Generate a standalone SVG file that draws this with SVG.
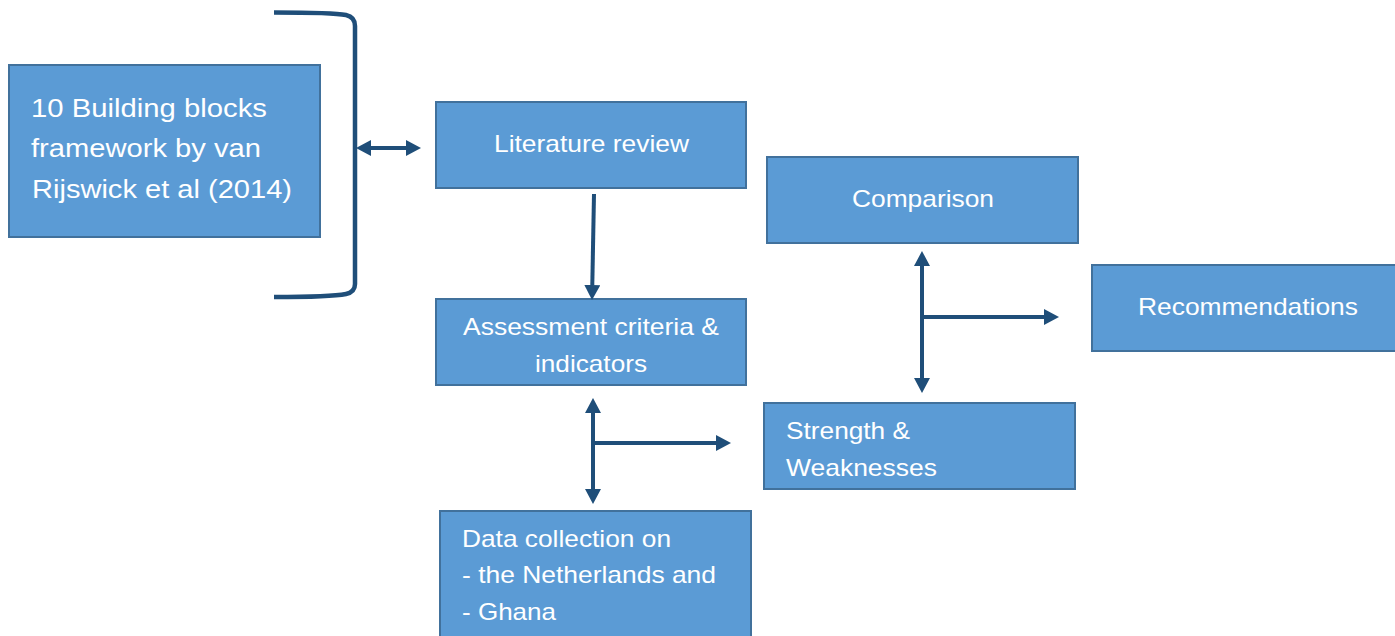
<svg xmlns="http://www.w3.org/2000/svg" width="1395" height="636" viewBox="0 0 1395 636">
  <style>
    .box { fill: #5B9BD5; stroke: #41719C; stroke-width: 2; }
    .lbl { fill: #FFFFFF; font-family: "Liberation Sans", Arial, sans-serif; font-size: 24px; }
    .big { font-size: 26.5px; }
    .conn { fill: none; stroke: #1F4E79; stroke-width: 4; }
    .brace { fill: none; stroke: #1F4E79; stroke-width: 4.5; }
  </style>
  <defs>
    <marker id="head" viewBox="0 0 15 16" refX="0" refY="8" markerWidth="15" markerHeight="16" markerUnits="userSpaceOnUse" orient="auto-start-reverse">
      <path d="M0,0 L15,8 L0,16 z" fill="#1F4E79"/>
    </marker>
  </defs>
  <rect width="1395" height="636" fill="#FFFFFF"/>

  <g id="building-blocks">
    <rect class="box" x="9" y="65" width="311" height="172"/>
    <text class="lbl big" x="31" y="117" textLength="236" lengthAdjust="spacingAndGlyphs">10 Building blocks</text>
    <text class="lbl big" x="31" y="157" textLength="230" lengthAdjust="spacingAndGlyphs">framework by van</text>
    <text class="lbl big" x="32" y="198" textLength="260" lengthAdjust="spacingAndGlyphs">Rijswick et al (2014)</text>
  </g>

  <g id="bracket">
    <path class="brace" d="M274,12.5 C310,12.5 336,13 346,15 Q355,17 355,26 L355,284 Q355,292 346,294 C336,296 310,297 274,297"/>
  </g>

  <g id="literature-review">
    <rect class="box" x="436" y="102" width="310" height="86"/>
    <text class="lbl" x="494" y="152" textLength="195" lengthAdjust="spacingAndGlyphs">Literature review</text>
  </g>

  <g id="assessment-criteria">
    <rect class="box" x="436" y="299" width="310" height="86"/>
    <text class="lbl" x="463" y="335" textLength="256" lengthAdjust="spacingAndGlyphs">Assessment criteria &amp;</text>
    <text class="lbl" x="535" y="372" textLength="112" lengthAdjust="spacingAndGlyphs">indicators</text>
  </g>

  <g id="data-collection">
    <rect class="box" x="440" y="511" width="311" height="140"/>
    <text class="lbl" x="462" y="547" textLength="209" lengthAdjust="spacingAndGlyphs">Data collection on</text>
    <text class="lbl" x="462" y="583" textLength="254" lengthAdjust="spacingAndGlyphs">- the Netherlands and</text>
    <text class="lbl" x="462" y="620" textLength="94" lengthAdjust="spacingAndGlyphs">- Ghana</text>
  </g>

  <g id="comparison">
    <rect class="box" x="767" y="157" width="311" height="86"/>
    <text class="lbl" x="852" y="207" textLength="142" lengthAdjust="spacingAndGlyphs">Comparison</text>
  </g>

  <g id="recommendations">
    <rect class="box" x="1092" y="265" width="310" height="86"/>
    <text class="lbl" x="1138" y="315" textLength="220" lengthAdjust="spacingAndGlyphs">Recommendations</text>
  </g>

  <g id="strength-weaknesses">
    <rect class="box" x="764" y="403" width="311" height="86"/>
    <text class="lbl" x="786" y="439" textLength="124" lengthAdjust="spacingAndGlyphs">Strength &amp;</text>
    <text class="lbl" x="786" y="476" textLength="151" lengthAdjust="spacingAndGlyphs">Weaknesses</text>
  </g>

  <g id="connectors">
    <!-- framework bracket <-> literature review -->
    <line class="conn" x1="371" y1="148" x2="406" y2="148" marker-start="url(#head)" marker-end="url(#head)"/>
    <!-- literature review -> assessment criteria -->
    <line class="conn" x1="594" y1="194" x2="592.3" y2="285" marker-end="url(#head)"/>
    <!-- assessment criteria <-> data collection, branch to strengths -->
    <line class="conn" x1="593" y1="413" x2="593" y2="489" marker-start="url(#head)" marker-end="url(#head)"/>
    <line class="conn" x1="593" y1="443" x2="716" y2="443" marker-end="url(#head)"/>
    <!-- comparison <-> strengths, branch to recommendations -->
    <line class="conn" x1="922" y1="266" x2="922" y2="378" marker-start="url(#head)" marker-end="url(#head)"/>
    <line class="conn" x1="922" y1="317" x2="1044" y2="317" marker-end="url(#head)"/>
  </g>
</svg>
